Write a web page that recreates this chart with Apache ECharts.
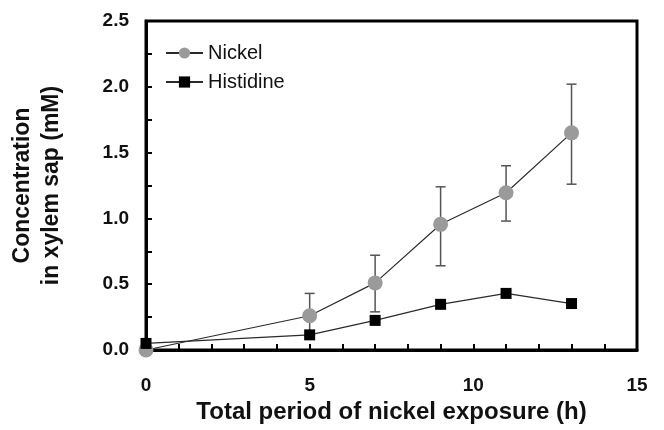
<!DOCTYPE html>
<html><head><meta charset="utf-8">
<script src="https://cdn.jsdelivr.net/npm/echarts@6/dist/echarts.min.js"></script>
<style>html,body{margin:0;padding:0;background:#fff}#c{width:664px;height:430px}</style>
</head><body><div id="c"></div>
<script>
var hours = [0, 5, 7, 9, 11, 13];
var nickel = [0.0, 0.26, 0.51, 0.955, 1.195, 1.65];
var nickelErrLow = [0.0, 0.10, 0.29, 0.64, 0.98, 1.26];
var nickelErrHigh = [0.0, 0.43, 0.72, 1.24, 1.40, 2.02];
var histidine = [0.05, 0.115, 0.225, 0.347, 0.43, 0.353];
var xTicks = [0, 5, 10, 15];
var yTicks = [0.0, 0.5, 1.0, 1.5, 2.0, 2.5];

var font = 'Liberation Sans, Arial, sans-serif';
var chart = echarts.init(document.getElementById('c'));
var errData = hours.map(function (h, i) { return [h, nickelErrLow[i], nickelErrHigh[i]]; });

chart.setOption({
  animation: false,
  grid: { left: 146, right: 27, top: 21, bottom: 80, outerBoundsMode: 'none', containLabel: false,
    show: true, borderColor: '#000', borderWidth: 3, backgroundColor: 'transparent' },
  legend: {
    left: 160, top: 38, orient: 'vertical', itemGap: 9, itemWidth: 37, itemHeight: 14,
    textStyle: { fontFamily: font, fontSize: 20, color: '#111' },
    data: ['Nickel', 'Histidine']
  },
  xAxis: {
    type: 'value', min: xTicks[0], max: xTicks[xTicks.length - 1], interval: 5,
    name: 'Total period of nickel exposure (h)', nameLocation: 'middle', nameGap: 48,
    nameTextStyle: { fontFamily: font, fontWeight: 'bold', fontSize: 24, color: '#111' },
    axisLine: { lineStyle: { color: '#000', width: 3 } },
    axisTick: { inside: true, length: 6, lineStyle: { color: '#000', width: 2 } },
    minorTick: { show: true, splitNumber: 5, length: 6, lineStyle: { color: '#000', width: 2 } },
    axisLabel: { margin: 26, fontFamily: font, fontWeight: 'bold', fontSize: 19, color: '#111' },
    splitLine: { show: false }
  },
  yAxis: {
    type: 'value', min: yTicks[0], max: yTicks[yTicks.length - 1], interval: 0.5,
    name: 'Concentration\nin xylem sap (mM)', nameLocation: 'middle', nameGap: 80,
    nameTextStyle: { fontFamily: font, fontWeight: 'bold', fontSize: 23, color: '#111', lineHeight: 29 },
    axisLine: { lineStyle: { color: '#000', width: 3 } },
    axisTick: { inside: true, length: 6, lineStyle: { color: '#000', width: 2 } },
    minorTick: { show: true, splitNumber: 2, length: 6, lineStyle: { color: '#000', width: 2 } },
    axisLabel: { margin: 17, fontFamily: font, fontWeight: 'bold', fontSize: 19, color: '#111',
      formatter: function (v) { return v.toFixed(1); } },
    splitLine: { show: false }
  },
  series: [
    {
      type: 'custom', name: 'err', clip: false, z: 2,
      data: errData,
      renderItem: function (params, api) {
        var x = api.value(0), lo = api.value(1), hi = api.value(2);
        if (hi - lo <= 0) return null;
        var p1 = api.coord([x, lo]), p2 = api.coord([x, hi]);
        var w = 5;
        var st = { stroke: '#555', lineWidth: 1.5 };
        return { type: 'group', children: [
          { type: 'line', shape: { x1: p1[0], y1: p1[1], x2: p2[0], y2: p2[1] }, style: st },
          { type: 'line', shape: { x1: p1[0] - w, y1: p1[1], x2: p1[0] + w, y2: p1[1] }, style: st },
          { type: 'line', shape: { x1: p2[0] - w, y1: p2[1], x2: p2[0] + w, y2: p2[1] }, style: st }
        ] };
      }
    },
    {
      type: 'line', name: 'Nickel', clip: false, z: 3,
      data: hours.map(function (h, i) { return [h, nickel[i]]; }),
      symbol: 'circle', symbolSize: 15,
      itemStyle: { color: '#9a9a9a' },
      lineStyle: { color: '#2a2a2a', width: 1.2 }
    },
    {
      type: 'line', name: 'Histidine', clip: false, z: 4,
      data: hours.map(function (h, i) { return [h, histidine[i]]; }),
      symbol: 'rect', symbolSize: 11,
      itemStyle: { color: '#000' },
      lineStyle: { color: '#2a2a2a', width: 1.2 }
    }
  ]
});
</script></body></html>
